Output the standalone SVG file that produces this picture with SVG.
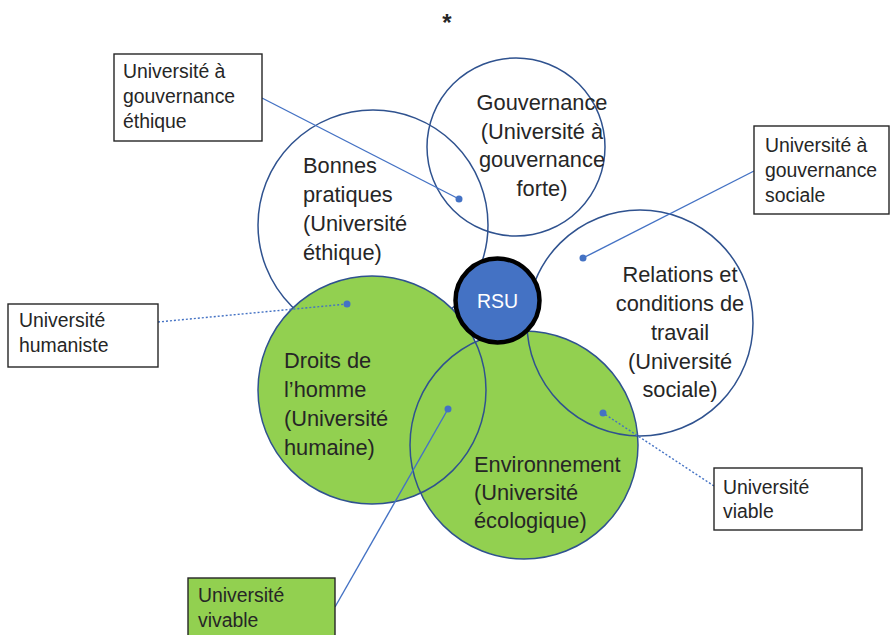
<svg xmlns="http://www.w3.org/2000/svg" width="892" height="635" viewBox="0 0 892 635">
<defs>
<style>
.txt{font-family:"Liberation Sans",Arial,sans-serif;fill:#262626}
.ct{font-size:21.8px}
.bt{font-size:19.4px}
.circ{stroke:#2f528f;stroke-width:1.5}
.box{fill:#fff;stroke:#262626;stroke-width:1.4}
.con{stroke:#4472c4;stroke-width:1.4;fill:none}
.dot{fill:#4472c4}
</style>
</defs>
<rect width="892" height="635" fill="#fff"/>
<text class="txt" x="447" y="31" font-size="24" font-weight="bold" text-anchor="middle" fill="#000">*</text>

<g id="circle-bonnes">
<circle class="circ" cx="373" cy="225" r="115" fill="#fff"/>
</g>
<g id="circle-gouvernance">
<circle class="circ" cx="516" cy="147" r="89" fill="none"/>
</g>
<g id="circle-relations">
<circle cx="640" cy="323" r="113" fill="#fff"/>
</g>
<g id="circle-droits">
<circle cx="372" cy="390" r="114" fill="#92d050"/>
</g>
<g id="circle-environnement">
<circle cx="524" cy="445" r="114" fill="#92d050"/>
</g>
<g id="outlines">
<circle class="circ" cx="372" cy="390" r="114" fill="none"/>
<circle class="circ" cx="524" cy="445" r="114" fill="none"/>
<circle class="circ" cx="640" cy="323" r="113" fill="none"/>
</g>

<g id="labels-circles" class="txt ct">
<text x="542" y="110" text-anchor="middle">Gouvernance</text>
<text x="542" y="138.5" text-anchor="middle">(Université à</text>
<text x="542" y="167" text-anchor="middle">gouvernance</text>
<text x="542" y="195.5" text-anchor="middle">forte)</text>
<text x="303" y="173">Bonnes</text>
<text x="303" y="202">pratiques</text>
<text x="303" y="231">(Université</text>
<text x="303" y="260">éthique)</text>
<text x="680" y="282" text-anchor="middle">Relations et</text>
<text x="680" y="311" text-anchor="middle">conditions de</text>
<text x="680" y="340" text-anchor="middle">travail</text>
<text x="680" y="368.5" text-anchor="middle">(Université</text>
<text x="680" y="397" text-anchor="middle">sociale)</text>
<text x="284" y="368">Droits de</text>
<text x="284" y="397">l’homme</text>
<text x="284" y="426">(Université</text>
<text x="284" y="455">humaine)</text>
<text x="474" y="472">Environnement</text>
<text x="474" y="500">(Université</text>
<text x="474" y="528">écologique)</text>
</g>

<g id="connectors">
<line class="con" x1="262" y1="98" x2="459" y2="199"/>
<line class="con" x1="754" y1="171" x2="583" y2="258"/>
<line class="con" x1="158" y1="322" x2="347" y2="304" stroke-dasharray="2 2"/>
<line class="con" x1="714" y1="486" x2="603" y2="413" stroke-dasharray="2 2"/>
<line class="con" x1="335" y1="607" x2="448" y2="409"/>
<circle class="dot" cx="459" cy="199" r="3.5"/>
<circle class="dot" cx="583" cy="258" r="3.5"/>
<circle class="dot" cx="347" cy="304" r="3.5"/>
<circle class="dot" cx="603" cy="413" r="3.5"/>
<circle class="dot" cx="448" cy="409" r="3.5"/>
</g>

<g id="rsu">
<circle cx="497.5" cy="300.5" r="42" fill="#4472c4" stroke="#000" stroke-width="4.5"/>
<text class="txt" x="497.5" y="308" font-size="19.5" text-anchor="middle" fill="#fff" style="fill:#fff">RSU</text>
</g>

<g id="box-ethique">
<rect class="box" x="114" y="54" width="148" height="87"/>
<text class="txt bt" x="123" y="78">Université à</text>
<text class="txt bt" x="123" y="103">gouvernance</text>
<text class="txt bt" x="123" y="128">éthique</text>
</g>
<g id="box-sociale">
<rect class="box" x="754" y="126" width="135" height="88"/>
<text class="txt bt" x="765" y="152">Université à</text>
<text class="txt bt" x="765" y="177">gouvernance</text>
<text class="txt bt" x="765" y="202">sociale</text>
</g>
<g id="box-humaniste">
<rect class="box" x="8" y="304" width="150" height="63"/>
<text class="txt bt" x="19" y="327">Université</text>
<text class="txt bt" x="19" y="352">humaniste</text>
</g>
<g id="box-viable">
<rect class="box" x="714" y="468" width="148" height="62"/>
<text class="txt bt" x="723" y="494">Université</text>
<text class="txt bt" x="723" y="518">viable</text>
</g>
<g id="box-vivable">
<rect class="box" x="188" y="578" width="147" height="62" style="fill:#92d050"/>
<text class="txt bt" x="198" y="602">Université</text>
<text class="txt bt" x="198" y="627">vivable</text>
</g>
</svg>
